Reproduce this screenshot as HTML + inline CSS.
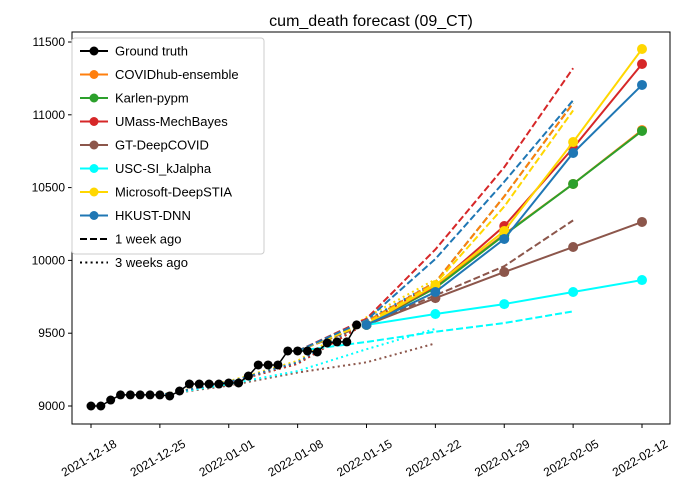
<!DOCTYPE html>
<html><head><meta charset="utf-8"><style>body{margin:0;background:#fff}svg{font-family:"Liberation Sans","DejaVu Sans",sans-serif}</style></head>
<body>
<svg id="c" width="688" height="496" xmlns="http://www.w3.org/2000/svg">
<rect width="688" height="496" fill="#fff"/>
<text x="371" y="26" text-anchor="middle" font-size="16">cum_death forecast (09_CT)</text>
<g id="grid"></g>
<g id="marks"></g>
<rect x="72" y="32" width="598" height="392" fill="none" stroke="#000" stroke-width="1"/>
<g id="legend"></g>
</svg>
<script>
const truthValues=[9000,9000,9041,9076,9076,9076,9076,9076,9069,9103,9151,9151,9151,9151,9158,9158,9206,9282,9282,9282,9378,9378,9378,9371,9433,9440,9440,9557];
const yTicks=[9000,9500,10000,10500,11000,11500];
const xTickLabels=["2021-12-18","2021-12-25","2022-01-01","2022-01-08","2022-01-15","2022-01-22","2022-01-29","2022-02-05","2022-02-12"];
const models=["COVIDhub-ensemble","Karlen-pypm","UMass-MechBayes","GT-DeepCOVID","USC-SI_kJalpha","Microsoft-DeepSTIA","HKUST-DNN"];
const colors=["#ff7f0e","#2ca02c","#d62728","#8c564b","#00ffff","#ffd700","#1f77b4"];
const cur=[[9557,9820,10180,10525,10895],[9557,9810,10174,10525,10889],[9557,9824,10236,10772,11349],[9557,9741,9920,10092,10264],[9557,9632,9700,9783,9865],[9557,9831,10202,10813,11452],[9557,9783,10147,10738,11205]];
const wk1=[[9378,9580,9850,10440,11080],[9378,9580,9850,10440,11080],[9378,9600,10075,10640,11320],[9378,9560,9760,9960,10275],[9378,9440,9510,9570,9650],[9378,9570,9840,10370,11030],[9378,9590,10010,10540,11100]];
const wk3=[[9075,9165,9300,9580,9850],[9075,9160,9290,9570,9840],[9075,9160,9290,9570,9840],[9075,9140,9230,9300,9430],[9075,9150,9240,9390,9530],[9075,9170,9310,9610,9870],[9075,9165,9300,9590,9850]];
const NS="http://www.w3.org/2000/svg";
const X=d=>91+d*(551/56);
const Y=v=>406-(v-9000)*(364/2500);
function mk(t,a,p){const e=document.createElementNS(NS,t);for(const k in a)e.setAttribute(k,a[k]);(p||document.getElementById('marks')).appendChild(e);return e;}
const g=document.getElementById('grid');
yTicks.forEach(v=>{
 const l=mk('line',{x1:68,x2:72,y1:Y(v),y2:Y(v),stroke:'#000'},g);
 
 
 const t=mk('text',{x:65,y:Y(v)+4,'text-anchor':'end','font-size':12},g);t.textContent=v;
 
 
});
xTickLabels.forEach((s,i)=>{
 const x=X(i*7);
 const l=mk('line',{x1:x,x2:x,y1:424,y2:428,stroke:'#000'},g);
 
 
 const t=mk('text',{x:x-2,y:462,'text-anchor':'middle','font-size':12,transform:`rotate(-30 ${x-2} 458)`},g);t.textContent=s;
 
 
});
function pts(arr,d0){return arr.map((v,i)=>X(d0+i*7)+','+Y(v)).join(' ');}
wk3.forEach((a,i)=>{const e=mk('polyline',{points:pts(a,7),fill:'none',stroke:colors[i],'stroke-width':2,'stroke-dasharray':'2 3.3'});
 
 });
[1,0,2,3,4,5,6].forEach(i=>{const a=wk1[i];const e=mk('polyline',{points:pts(a,21),fill:'none',stroke:colors[i],'stroke-width':2,'stroke-dasharray':'7 3'});
 
 });
const tl=mk('polyline',{points:truthValues.map((v,i)=>X(i)+','+Y(v)).join(' '),fill:'none',stroke:'#000','stroke-width':1.5});


truthValues.forEach((v,i)=>{const c=mk('circle',{cx:X(i),cy:Y(v),r:4.5,fill:'#000'});
 
 });
cur.forEach((a,i)=>{const e=mk('polyline',{points:pts(a,28),fill:'none',stroke:colors[i],'stroke-width':2});
 
 
 a.forEach((v,j)=>{const c=mk('circle',{cx:X(28+j*7),cy:Y(v),r:5,fill:colors[i]});
  
  });});
const L=document.getElementById('legend');
const box=mk('rect',{x:72,y:38,width:192,height:216,rx:3,fill:'#fff','fill-opacity':0.85,stroke:'#ccc'},L);


const entries=[["Ground truth","#000","solid",true]].concat(models.map((m,i)=>[m,colors[i],"solid",true])).concat([["1 week ago","#000","7 3",false],["3 weeks ago","#000","2 3.3",false]]);
entries.forEach((e,i)=>{
 const y=51+i*23.5;
 const ln=mk('line',{x1:80,x2:108,y1:y,y2:y,stroke:e[1],'stroke-width':2},L);
 if(e[2]!=='solid')ln.setAttribute('stroke-dasharray',e[2]);
 if(e[3])mk('circle',{cx:94,cy:y,r:4.5,fill:e[1]},L);
 const t=mk('text',{x:115,y:y+4.5,'font-size':13},L);t.textContent=e[0];
 
 
});
</script>
</body></html>
